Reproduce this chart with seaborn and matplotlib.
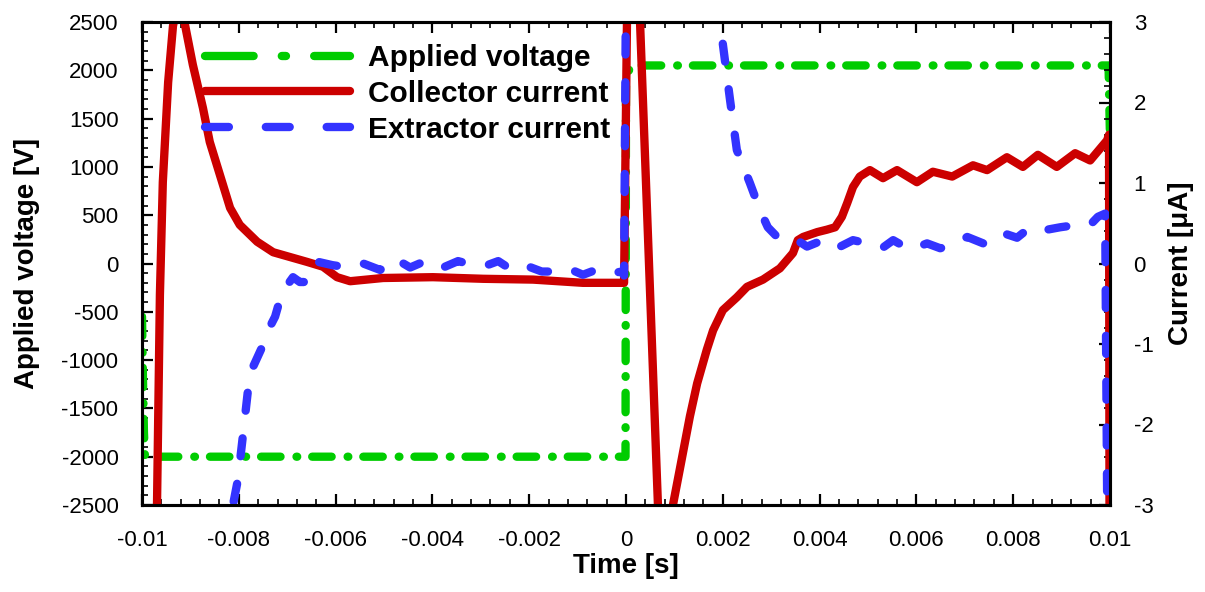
import numpy as np
import pandas as pd
import matplotlib
matplotlib.use("Agg")
import matplotlib.pyplot as plt
from matplotlib.lines import Line2D
import seaborn as sns

# ---------------- data ----------------
volt_t = [-0.01, -0.00998, -0.00996, -0.00994, -0.0099, -0.00001, 0.0, 0.00008, 0.00016, 0.00997, 0.01]
volt_v = [-550, -1200, -1750, -1990, -2000, -2000, 1900, 2030, 2050, 2050, 1300]

coll_t = [-0.00992, -0.00969, -0.00963, -0.00957, -0.00946, -0.00936, -0.00926, -0.00911, -0.00895, -0.00874,
          -0.00860, -0.00839, -0.00818, -0.00798, -0.00762, -0.00729, -0.00694, -0.00659, -0.00626, -0.00597,
          -0.00570, -0.00502, -0.00399, -0.00295, -0.00192, -0.00089, -0.00004, 0.00002, 0.00010, 0.00029,
          0.00066, 0.00081, 0.00097, 0.00112, 0.00132, 0.00147, 0.00167, 0.00180, 0.00200, 0.00229,
          0.00250, 0.00283, 0.00318, 0.00345, 0.00355, 0.00366, 0.00395, 0.00415, 0.00432, 0.00446,
          0.00457, 0.00469, 0.00483, 0.00504, 0.00531, 0.00560, 0.00601, 0.00634, 0.00674, 0.00717,
          0.00746, 0.00787, 0.00820, 0.00851, 0.00890, 0.00928, 0.00959, 0.00994, 0.00998, 0.01000]
coll_i = [-7, -3.0, -0.39, 1.01, 2.25, 2.95, 3.25, 2.96, 2.47, 1.93,
          1.51, 1.1, 0.69, 0.48, 0.27, 0.14, 0.08, 0.02, -0.04, -0.17,
          -0.22, -0.18, -0.17, -0.19, -0.2, -0.24, -0.24, 3.0, 6.0, 3.0,
          -3.0, -3.6, -3.0, -2.53, -1.9, -1.49, -1.07, -0.83, -0.58, -0.42,
          -0.29, -0.2, -0.06, 0.13, 0.29, 0.33, 0.39, 0.42, 0.45, 0.58,
          0.75, 0.95, 1.08, 1.16, 1.06, 1.16, 1.01, 1.14, 1.08, 1.22,
          1.16, 1.32, 1.2, 1.35, 1.2, 1.37, 1.28, 1.53, 1.6, -8]

extr_t = [-0.00829, -0.00812, -0.00802, -0.00791, -0.00781, -0.00771, -0.00752, -0.00742, -0.00725, -0.00715,
          -0.00700, -0.00688, -0.00674, -0.00659, -0.00647, -0.00636, -0.00607, -0.00574, -0.00543, -0.00508,
          -0.00477, -0.00446, -0.00411, -0.00378, -0.00347, -0.00316, -0.00291, -0.00264, -0.00236, -0.00205,
          -0.00174, -0.00143, -0.00116, -0.00089, -0.00058, -0.00029, -0.00008, -0.00004, 0.00000, 0.00029,
          0.00112, 0.00174, 0.00188, 0.00200, 0.00215, 0.00229, 0.00256, 0.00277, 0.00293, 0.00314,
          0.00343, 0.00374, 0.00407, 0.00436, 0.00469, 0.00498, 0.00529, 0.00552, 0.00587, 0.00622,
          0.00649, 0.00669, 0.00705, 0.00738, 0.00773, 0.00808, 0.00835, 0.00870, 0.00897, 0.00932,
          0.00959, 0.00975, 0.00990, 0.01000]
extr_i = [-5, -3.0, -2.69, -2.11, -1.57, -1.29, -1.04, -0.86, -0.66, -0.45,
          -0.27, -0.17, -0.23, -0.23, -0.04, 0.02, -0.02, -0.05, 0.0, -0.08,
          0.06, -0.05, 0.04, -0.05, 0.03, -0.02, -0.03, 0.03, -0.08, -0.03,
          -0.1, -0.1, -0.07, -0.14, -0.07, -0.12, -0.1, -0.15, 3.5, 5.0,
          5.0, 3.5, 3.0, 2.73, 2.03, 1.41, 1.0, 0.66, 0.45, 0.32,
          0.33, 0.21, 0.29, 0.19, 0.29, 0.25, 0.19, 0.29, 0.17, 0.25,
          0.19, 0.21, 0.33, 0.25, 0.39, 0.32, 0.45, 0.42, 0.45, 0.48,
          0.48, 0.58, 0.62, -8]

series_labels = ["Applied voltage", "Collector current", "Extractor current"]
x_ticks = [-0.01, -0.008, -0.006, -0.004, -0.002, 0.0, 0.002, 0.004, 0.006, 0.008, 0.01]
x_ticklabels = ["-0.01", "-0.008", "-0.006", "-0.004", "-0.002", "0", "0.002", "0.004", "0.006", "0.008", "0.01"]
yl_ticks = [-2500, -2000, -1500, -1000, -500, 0, 500, 1000, 1500, 2000, 2500]
yr_ticks = [-3, -2, -1, 0, 1, 2, 3]
x_label = "Time [s]"
yl_label = "Applied voltage [V]"
yr_label = "Current [\u03bcA]"

# ---------------- style ----------------
sns.set_theme(style="white")
plt.rcParams["font.family"] = ["Liberation Sans", "DejaVu Sans"]
plt.rcParams["lines.scale_dashes"] = False
for k in ("text.color", "axes.labelcolor", "xtick.color", "ytick.color", "axes.edgecolor"):
    plt.rcParams[k] = "black"

GREEN = "#00CC00"
RED = "#CC0000"
BLUE = "#3333FF"
LW = 6.0

fig = plt.figure(figsize=(12.05, 5.92), dpi=100)
ax = fig.add_axes([142 / 1205, 1 - 505 / 592, 968 / 1205, 483 / 592])
ax2 = ax.twinx()

df_v = pd.DataFrame({"t": volt_t, "v": volt_v})
df_c = pd.DataFrame({"t": coll_t, "i": coll_i})
df_e = pd.DataFrame({"t": extr_t, "i": extr_i})

sns.lineplot(data=df_v, x="t", y="v", ax=ax, estimator=None, sort=False,
             color=GREEN, linewidth=LW, legend=False)
gl = ax.lines[-1]
gl.set_dashes([14.0, 11.5, 0.5, 10.8])
gl.set_dash_capstyle("round")

sns.lineplot(data=df_c, x="t", y="i", ax=ax2, estimator=None, sort=False,
             color=RED, linewidth=LW, legend=False)
rl = ax2.lines[-1]
rl.set_solid_capstyle("round")
rl.set_solid_joinstyle("round")

sns.lineplot(data=df_e, x="t", y="i", ax=ax2, estimator=None, sort=False,
             color=BLUE, linewidth=LW, legend=False)
bl = ax2.lines[-1]
bl.set_dashes([13.0, 20.0])
bl.set_dash_capstyle("round")
bl.set_dash_joinstyle("round")

ax.set_xlim(-0.01, 0.01)
ax.set_ylim(-2500, 2500)
ax2.set_ylim(-3, 3)

ax.set_xticks(x_ticks)
ax.set_xticklabels(x_ticklabels)
ax.set_yticks(yl_ticks)
ax.set_yticklabels([str(v) for v in yl_ticks])
ax2.set_yticks(yr_ticks)
ax2.set_yticklabels([str(v) for v in yr_ticks])
ax.xaxis.set_minor_locator(matplotlib.ticker.MultipleLocator(0.0004))
ax.yaxis.set_minor_locator(matplotlib.ticker.MultipleLocator(100))
ax2.yaxis.set_minor_locator(matplotlib.ticker.MultipleLocator(0.2))

for a in (ax, ax2):
    for s in a.spines.values():
        s.set_linewidth(2.2)
        s.set_color("black")
        s.set_visible(True)

ax.tick_params(axis="x", which="both", direction="in", top=True, bottom=True, pad=18,
               labelsize=16, colors="black")
ax.tick_params(axis="y", which="both", direction="in", left=True, right=False, pad=17,
               labelsize=16, colors="black")
ax2.tick_params(axis="y", which="both", direction="in", right=True, left=False, pad=17,
                labelsize=16, colors="black")
for a in (ax, ax2):
    a.tick_params(which="major", length=8, width=1.6)
    a.tick_params(which="minor", length=4.5, width=1.2)

ax.set_xlabel(x_label, fontsize=20, fontweight="bold", color="black")
ax.set_ylabel(yl_label, fontsize=20, fontweight="bold", color="black")
ax2.set_ylabel(yr_label, fontsize=20, fontweight="bold", rotation=90, color="black")
ax.xaxis.set_label_coords(0.5, -(553 - 505) / 483)
ax.yaxis.set_label_coords((40 - 142) / 968, 0.5)
ax2.yaxis.set_label_coords((1168 - 142) / 968, 0.5)

handles = [
    Line2D([], [], color=GREEN, linewidth=LW, dashes=[35.0, 20.3, 3.0, 20.3], dash_capstyle="round"),
    Line2D([], [], color=RED, linewidth=LW, solid_capstyle="round"),
    Line2D([], [], color=BLUE, linewidth=LW, dashes=[17.2, 26.6], dash_capstyle="round"),
]
leg = ax2.legend(handles, series_labels, loc="upper left",
                 bbox_to_anchor=((205 - 142) / 968, (505 - 44) / 483),
                 frameon=False, borderpad=0, borderaxespad=0,
                 handlelength=4.85, handletextpad=0.6, labelspacing=0.26,
                 prop={"size": 21.5, "weight": "bold"})
for t in leg.get_texts():
    t.set_color("black")

fig.savefig("out.png", dpi=100)
